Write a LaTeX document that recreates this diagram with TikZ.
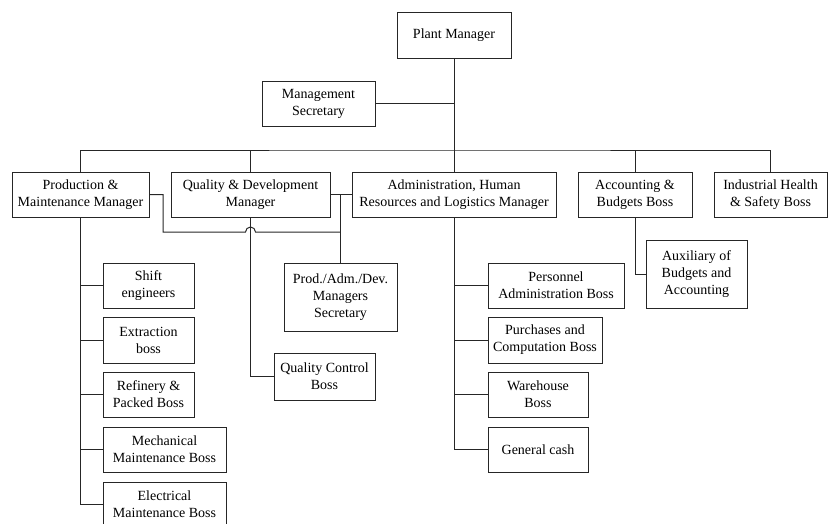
\documentclass[tikz,border=0pt]{standalone}
\usepackage{fontspec}
\setmainfont{Liberation Serif}
\usetikzlibrary{calc}
\begin{document}
\begin{tikzpicture}[x=1pt,y=-1pt,
  every node/.style={font=\fontsize{14}{17}\selectfont},
  orgbox/.style={draw=black!85, line width=1pt, align=center, inner sep=0pt,
    minimum height=45pt},
  link/.style={draw=black!85, line width=1pt},
  biglink/.style={draw=black!85, line width=1.8pt}]
\useasboundingbox (0,0) rectangle (832,523);

% top level
\node[orgbox, minimum width=114pt, minimum height=46pt] (pm) at (454,35) {Plant Manager};
\node[orgbox, minimum width=113pt] (ms) at (318.5,103.5) {Management\\Secretary};

% managers row
\node[orgbox, minimum width=137pt] (prod) at (80.5,194.5) {Production \&\\Maintenance Manager};
\node[orgbox, minimum width=159pt] (qual) at (250.5,194.5) {Quality \& Development\\Manager};
\node[orgbox, minimum width=204pt] (adm) at (454,194.5) {Administration, Human\\Resources and Logistics Manager};
\node[orgbox, minimum width=114pt] (acc) at (635,194.5) {Accounting \&\\Budgets Boss};
\node[orgbox, minimum width=113pt] (ihs) at (770.5,194.5) {Industrial Health\\\& Safety Boss};

% production branch
\node[orgbox, minimum width=91pt] (shift) at (148.5,285.5) {Shift\\engineers};
\node[orgbox, minimum width=91pt, minimum height=46pt] (extr) at (148.5,340) {Extraction\\boss};
\node[orgbox, minimum width=91pt] (refi) at (148.5,394.5) {Refinery \&\\Packed Boss};
\node[orgbox, minimum width=123pt] (mech) at (164.5,449.5) {Mechanical\\Maintenance Boss};
\node[orgbox, minimum width=123pt] (elec) at (164.5,504.5) {Electrical\\Maintenance Boss};

% shared secretary and quality control
\node[orgbox, minimum width=113pt, minimum height=68pt] (sec) at (340.5,297) {Prod./Adm./Dev.\\Managers\\Secretary};
\node[orgbox, minimum width=101pt, minimum height=47pt] (qc) at (324.5,376.5) {Quality Control\\Boss};

% administration branch
\node[orgbox, minimum width=136pt] (pers) at (556,285.5) {Personnel\\Administration Boss};
\node[orgbox, minimum width=114pt, minimum height=46pt] (purch) at (545,340) {Purchases and\\Computation Boss};
\node[orgbox, minimum width=100pt] (ware) at (538,394.5) {Warehouse\\Boss};
\node[orgbox, minimum width=100pt] (cash) at (538,449.5) {General cash};

% accounting branch
\node[orgbox, minimum width=101pt, minimum height=68pt] (aux) at (696.5,274) {Auxiliary of\\Budgets and\\Accounting};

% connectors from the plant manager
\coordinate (bus) at (454,150);
\draw[link] (pm.south) -- (adm.north);
\draw[link] (ms.east) -- (pm.south |- ms.east);
\draw[link] (prod.north) |- (bus) -| (ihs.north);
\draw[link] (qual.north) -- (qual.north |- bus);
\draw[link] (acc.north) -- (acc.north |- bus);

% production children
\draw[link] (prod.south) |- (elec.west);
\foreach \n in {shift,extr,refi,mech}
  \draw[link] (prod.south |- \n.west) -- (\n.west);

% quality children
\draw[link] (qual.south) |- (qc.west);

% managers to their shared secretary
\coordinate (bend) at (163,232);
\coordinate (hop) at (qual.south |- bend);
\draw[link] (qual.east) -- (adm.west);
\draw[link] (prod.east) -| (bend) -- ($(hop)+(-5pt,0)$)
  arc[start angle=180, end angle=0, radius=5pt] -- (sec.north |- bend);
\draw[biglink] (sec.north |- qual.east) -- (sec.north);

% administration children
\draw[link] (adm.south) |- (cash.west);
\foreach \n in {pers,purch,ware}
  \draw[link] (adm.south |- \n.west) -- (\n.west);

% accounting child
\draw[link] (acc.south) |- (aux.west);
\end{tikzpicture}
\end{document}
